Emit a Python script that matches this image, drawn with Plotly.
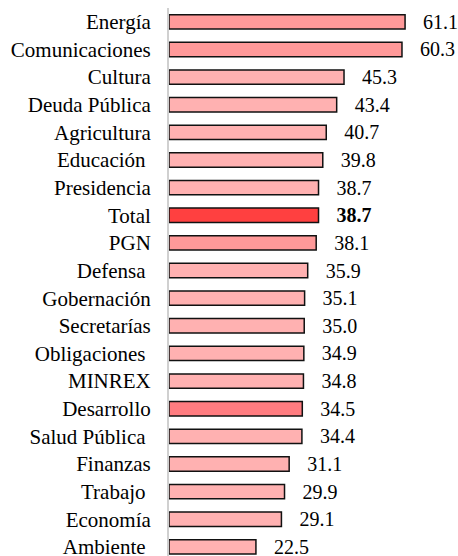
import plotly.graph_objects as go

categories = ["Energía", "Comunicaciones", "Cultura", "Deuda Pública", "Agricultura",
              "Educación\u00a0", "Presidencia", "Total", "PGN", "Defensa\u00a0",
              "Gobernación", "Secretarías", "Obligaciones\u00a0", "MINREX", "Desarrollo",
              "Salud Pública\u00a0", "Finanzas", "Trabajo\u00a0", "Economía", "Ambiente\u00a0"]
values = [61.1, 60.3, 45.3, 43.4, 40.7, 39.8, 38.7, 38.7, 38.1, 35.9,
          35.1, 35.0, 34.9, 34.8, 34.5, 34.4, 31.1, 29.9, 29.1, 22.5]
colors = ["#FF9999", "#FF9999", "#FFB1B1", "#FFB1B1", "#FFB1B1",
          "#FFB1B1", "#FFB1B1", "#FF4040", "#FF9999", "#FFB1B1",
          "#FFB1B1", "#FFB1B1", "#FFB1B1", "#FFB1B1", "#FF7C80",
          "#FFB1B1", "#FFB1B1", "#FFB1B1", "#FFB1B1", "#FFB1B1"]
highlight = "Total"

texts = []
for c, v in zip(categories, values):
    s = f"{v:.1f}"
    if c == highlight:
        s = f"<b>{s}</b>"
    texts.append("\u00a0\u00a0\u00a0" + s)

FONT = "Liberation Serif, Times New Roman, serif"

fig = go.Figure(go.Bar(
    x=values, y=categories, orientation="h",
    marker=dict(color=colors, line=dict(color="#111111", width=1.5)),
    width=0.52,
    text=texts, textposition="outside", cliponaxis=False, constraintext="none",
    textfont=dict(family=FONT, size=20, color="black"),
    hoverinfo="skip",
))

fig.update_layout(
    width=458, height=556,
    margin=dict(l=169, r=0, t=8, b=0, autoexpand=False),
    paper_bgcolor="white", plot_bgcolor="white",
    showlegend=False,
    font=dict(family=FONT, size=20, color="black"),
    xaxis=dict(range=[0, 74.8], visible=False, showgrid=False, zeroline=False, automargin=False),
    yaxis=dict(type="category", range=[19.33, -0.5], showgrid=False, zeroline=False,
               showline=True, linecolor="#D0D0D0", linewidth=2, automargin=False,
               ticks="", ticklabelstandoff=12,
               tickfont=dict(family=FONT, size=21, color="black")),
)

fig.write_html("out.html",
               config={"displayModeBar": False},
               post_script="document.body.style.margin='0';document.body.style.padding='0';")
